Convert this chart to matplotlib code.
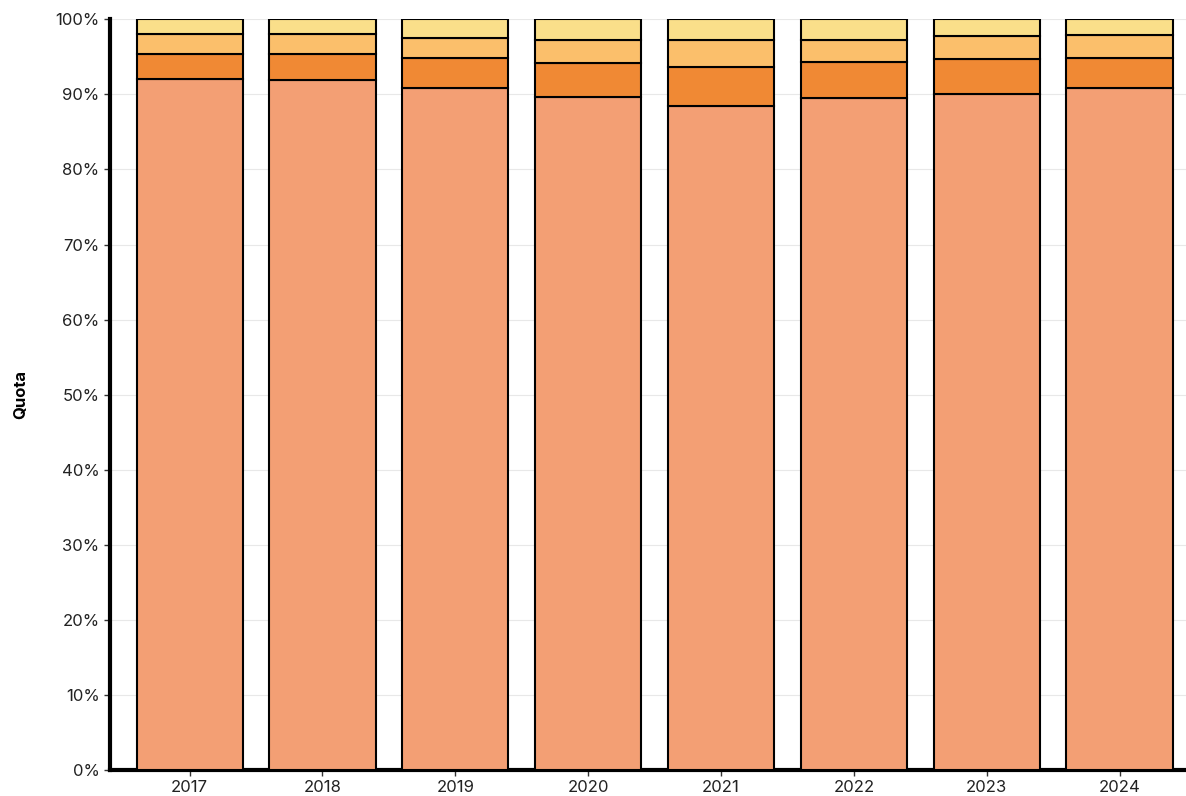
import numpy as np
import matplotlib.pyplot as plt
from matplotlib.ticker import PercentFormatter

plt.rcParams['font.family'] = ['Inter', 'DejaVu Sans']

years = ['2017', '2018', '2019', '2020', '2021', '2022', '2023', '2024']
# cumulative tops (%)
cum1 = np.array([92.0, 91.9, 90.8, 89.7, 88.5, 89.5, 90.0, 90.8])
cum2 = np.array([95.4, 95.4, 94.8, 94.2, 93.7, 94.3, 94.7, 94.8])
cum3 = np.array([98.0, 98.0, 97.5, 97.3, 97.2, 97.3, 97.8, 97.9])

seg1 = cum1
seg2 = cum2 - cum1
seg3 = cum3 - cum2
seg4 = 100 - cum3

colors = ['#F39F74', '#F08934', '#FBBF6B', '#FADF8A']

fig = plt.figure(figsize=(11.86, 7.96), dpi=100)
ax = fig.add_axes([0.0927, 0.0327, 0.9073, 0.9430])

x = np.arange(len(years))
bottom = np.zeros(len(years))
for seg, c in zip([seg1, seg2, seg3, seg4], colors):
    ax.bar(x, seg, bottom=bottom, width=0.8, color=c, edgecolor='black', linewidth=1.5, zorder=3)
    bottom += seg

ax.set_xlim(-0.6, 7.5)
ax.set_ylim(0, 100)
ax.set_xticks(x)
ax.set_xticklabels(years)
ax.set_yticks(np.arange(0, 101, 10))
ax.yaxis.set_major_formatter(PercentFormatter(decimals=0))
ax.tick_params(labelsize=12, labelcolor='#222222', color='#333333', length=4, width=1)
ax.set_ylabel('Quota', fontsize=12, fontweight='bold')
ax.yaxis.set_label_coords(-0.076, 0.5)
ax.grid(axis='y', color='#e8e8e8', linewidth=0.8, zorder=0)
ax.set_axisbelow(True)
for s in ['top', 'right']:
    ax.spines[s].set_visible(False)
ax.spines['left'].set_linewidth(3)
ax.spines['bottom'].set_linewidth(3)

fig.savefig('out.png', dpi=100)
